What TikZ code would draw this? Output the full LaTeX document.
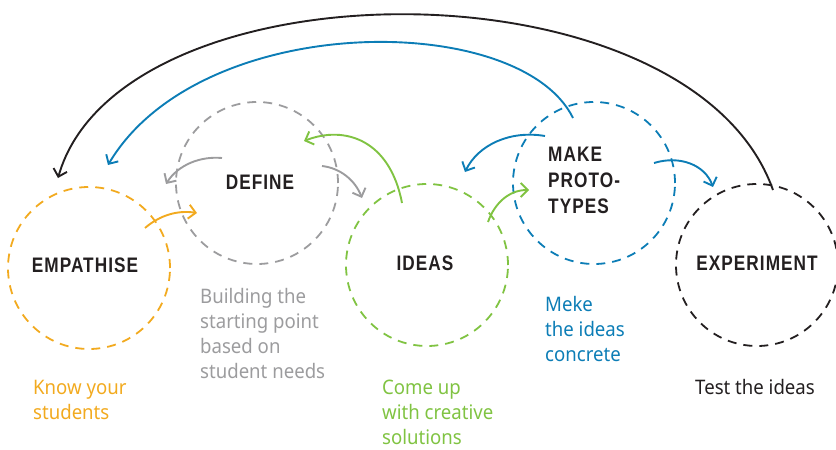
\documentclass[tikz,border=0pt]{standalone}
\usepackage{fontspec}
\setmainfont[FakeStretch=0.93]{Noto Sans}
\newfontfamily\labfont[FakeStretch=0.82,LetterSpace=5]{Liberation Sans}
\usetikzlibrary{arrows.meta}
\definecolor{cOr}{HTML}{F2AA1F}
\definecolor{cGr}{HTML}{9C9C9E}
\definecolor{cGn}{HTML}{80C342}
\definecolor{cBl}{HTML}{0C7DB6}
\definecolor{cBk}{HTML}{231F20}
\begin{document}
\begin{tikzpicture}[x=1pt,y=-1pt,
 phase/.style={circle, minimum size=162pt, inner sep=0pt, line width=1.8pt, dash pattern=on 9pt off 7pt},
 lab/.style={font=\labfont\bfseries\fontsize{21}{26}\selectfont, text=cBk, align=left, inner sep=0pt},
 desc/.style={font=\fontsize{20}{25}\selectfont, align=left, anchor=base west, inner sep=0pt},
 conn/.style={line width=1.9pt, -{Straight Barb[length=7pt,width=14pt]}}
]
\useasboundingbox (0,0) rectangle (836,450);
% circles
\node[phase, draw=cOr] (emp) at (89,268) {};
\node[phase, draw=cGr] (def) at (257,183) {};
\node[phase, draw=cGn] (ide) at (427,265) {};
\node[phase, draw=cBl] (pro) at (594,183) {};
\node[phase, draw=cBk] (exp) at (757,265) {};
% titles
\node[lab] (tEmp) at (85,265) {EMPATHISE};
\node[lab] (tDef) at (260,182) {DEFINE};
\node[lab] (tIde) at (425,263) {IDEAS};
\node[lab, anchor=west] (tPro) at (548,180) {MAKE\\PROTO-\\TYPES};
\node[lab] (tExp) at (757,263) {EXPERIMENT};
% descriptions (anchor at baseline of last line)
\node[desc, text=cOr] (dEmp) at (33,419) {Know your\\students};
\node[desc, text=cGr] (dDef) at (200,378) {Building the\\starting point\\based on\\student needs};
\node[desc, text=cGn] (dIde) at (382,444) {Come up\\with creative\\solutions};
\node[desc, text=cBl] (dPro) at (545,361) {Meke\\the ideas\\concrete};
\node[desc, text=cBk] (dExp) at (695,394) {Test the ideas};
% connector end points
\coordinate (oS) at (145,228); \coordinate (oE) at (197,213);
\coordinate (gLS) at (222,158); \coordinate (gLE) at (166,184);
\coordinate (gRS) at (322,166); \coordinate (gRE) at (362,198);
\coordinate (gnS) at (402,203); \coordinate (gnE) at (304,141);
\coordinate (gn2S) at (488,222); \coordinate (gn2E) at (529,190);
\coordinate (bLS) at (545,136); \coordinate (bLE) at (465,172);
\coordinate (bRS) at (654,163); \coordinate (bRE) at (713,187);
\coordinate (bBS) at (573,118); \coordinate (bBE) at (108,165);
\coordinate (kS) at (773,190); \coordinate (kE) at (58,178);
% connectors
\draw[conn, cOr] (oS) .. controls (160,215) and (178,210) .. (oE);
\draw[conn, cGr] (gLS) .. controls (200,156) and (178,165) .. (gLE);
\draw[conn, cGr] (gRS) .. controls (340,168) and (355,180) .. (gRE);
\draw[conn, cGn] (gnS) .. controls (390,140) and (345,125) .. (gnE);
\draw[conn, cGn] (gn2S) .. controls (495,202) and (510,190) .. (gn2E);
\draw[conn, cBl] (bLS) .. controls (510,130) and (478,145) .. (bLE);
\draw[conn, cBl] (bRS) .. controls (680,155) and (705,165) .. (bRE);
\draw[conn, cBl] (bBS) .. controls (520,10) and (200,10) .. (bBE);
\draw[conn, cBk] (kS) .. controls (690,-44) and (120,-40) .. (kE);
\end{tikzpicture}
\end{document}
